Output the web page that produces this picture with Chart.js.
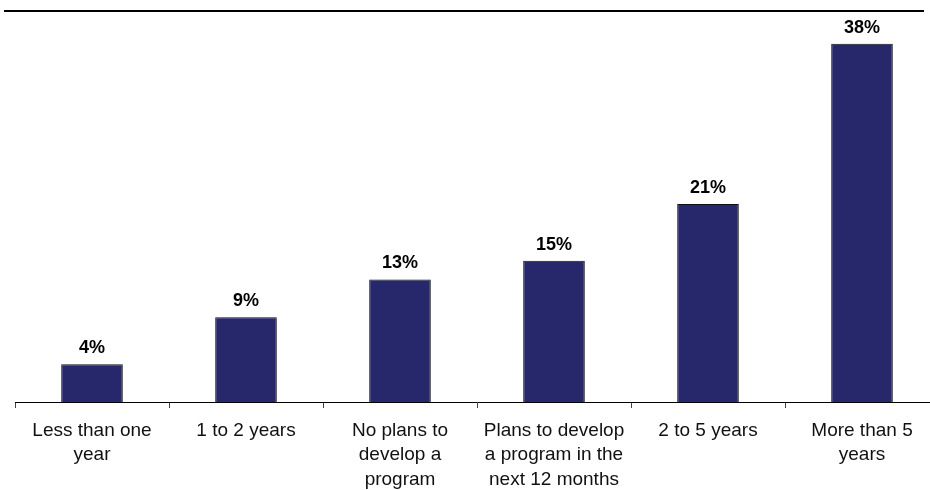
<!DOCTYPE html>
<html>
<head>
<meta charset="utf-8">
<script src="https://cdn.jsdelivr.net/npm/chart.js@4.4.1/dist/chart.umd.min.js"></script>
<style>
  html, body { margin: 0; padding: 0; background: #fff; overflow: hidden; }
  #wrap { position: relative; width: 945px; height: 490px; }
</style>
</head>
<body>
<div id="wrap"><canvas id="chart"></canvas></div>
<script>
// categories and shares (%)
const categories = [
  ['Less than one', 'year'],
  '1 to 2 years',
  ['No plans to', 'develop a', 'program'],
  ['Plans to develop', 'a program in the', 'next 12 months'],
  '2 to 5 years',
  ['More than 5', 'years']
];
const shares = [4, 9, 13, 15, 21, 38];

// value labels above each bar
const valueLabels = {
  id: 'valueLabels',
  afterDatasetsDraw(chart) {
    const ctx = chart.ctx;
    const meta = chart.getDatasetMeta(0);
    ctx.save();
    ctx.font = 'bold 18px "Liberation Sans", Arial, sans-serif';
    ctx.fillStyle = '#000';
    ctx.textAlign = 'center';
    ctx.textBaseline = 'alphabetic';
    meta.data.forEach((bar, i) => {
      ctx.fillText(shares[i] + '%', bar.x, bar.y - 11);
    });
    ctx.restore();
  }
};

// thick rule across the top
const topRule = {
  id: 'topRule',
  beforeDraw(chart) {
    const ctx = chart.ctx;
    ctx.save();
    ctx.strokeStyle = '#000';
    ctx.lineWidth = 2;
    ctx.beginPath();
    ctx.moveTo(4, 11);
    ctx.lineTo(924, 11);
    ctx.stroke();
    ctx.restore();
  }
};

new Chart(document.getElementById('chart'), {
  type: 'bar',
  data: {
    labels: categories,
    datasets: [{
      data: shares,
      backgroundColor: '#27286b',
      borderColor: '#111',
      borderWidth: 1,
      barPercentage: 0.8,
      categoryPercentage: 0.5
    }]
  },
  options: {
    responsive: true,
    maintainAspectRatio: false,
    animation: false,
    layout: { padding: { left: 15, right: 6, top: 25, bottom: 0 } },
    plugins: { legend: { display: false }, tooltip: { enabled: false } },
    scales: {
      y: { display: false, min: 0, max: 40 },
      x: {
        afterFit(scale) { scale.height = 88; },
        border: { display: true, color: '#000', width: 1 },
        grid: { offset: true, drawOnChartArea: false, drawTicks: true, tickLength: 6, color: '#444' },
        ticks: {
          color: '#111',
          padding: 11,
          maxRotation: 0,
          autoSkip: false,
          font: { family: '"Liberation Sans", Arial, sans-serif', size: 19, lineHeight: 1.27 }
        }
      }
    }
  },
  plugins: [valueLabels, topRule]
});
</script>
</body>
</html>
